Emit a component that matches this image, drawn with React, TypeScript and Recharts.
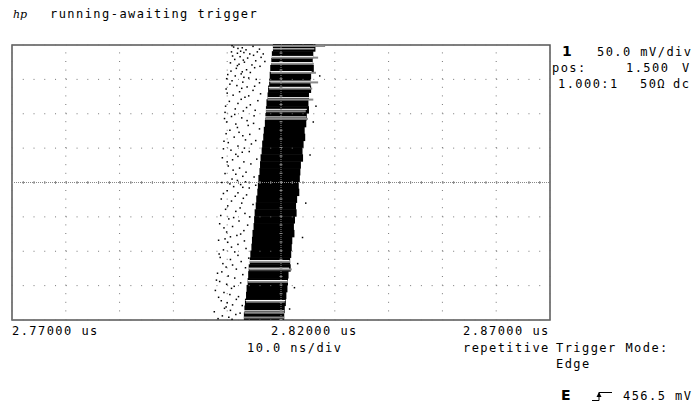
import React from "react";
import {
  ComposedChart,
  Bar,
  Scatter,
  XAxis,
  YAxis,
  ReferenceLine,
  ReferenceArea,
} from "recharts";

// time axis in ns, voltage axis in V
const gridTimes = [2770, 2780, 2790, 2800, 2810, 2820, 2830, 2840, 2850, 2860, 2870];
const gridVolts = [1.3, 1.35, 1.4, 1.45, 1.5, 1.55, 1.6, 1.65, 1.7];
const labelTimes = [2770, 2820, 2870];

// dense trace band, one row per 10 mV
const coreVolts = [
  1.695, 1.685, 1.675, 1.665, 1.655, 1.645, 1.635, 1.625, 1.615, 1.605,
  1.595, 1.585, 1.575, 1.565, 1.555, 1.545, 1.535, 1.525, 1.515, 1.505,
  1.495, 1.485, 1.475, 1.465, 1.455, 1.445, 1.435, 1.425, 1.415, 1.405,
  1.395, 1.385, 1.375, 1.365, 1.355, 1.345, 1.335, 1.325, 1.315, 1.305,
];
const coreLeft = [
  2818.5, 2818.3, 2818.2, 2818.0, 2817.9, 2817.8, 2817.6, 2817.5, 2817.3, 2817.2,
  2817.1, 2817.0, 2816.8, 2816.7, 2816.5, 2816.4, 2816.2, 2816.1, 2816.0, 2815.8,
  2815.7, 2815.6, 2815.4, 2815.3, 2815.1, 2815.0, 2814.9, 2814.7, 2814.6, 2814.5,
  2814.3, 2814.2, 2814.0, 2813.9, 2813.8, 2813.6, 2813.5, 2813.3, 2813.2, 2813.1,
];
const coreRight = [
  2826.4, 2826.0, 2825.9, 2826.1, 2825.6, 2825.5, 2825.6, 2825.2, 2825.1, 2825.2,
  2824.8, 2824.7, 2824.4, 2824.5, 2824.2, 2824.0, 2824.1, 2823.7, 2823.6, 2823.5,
  2823.3, 2823.4, 2823.0, 2822.8, 2822.9, 2822.6, 2822.4, 2822.5, 2822.1, 2822.0,
  2821.9, 2821.7, 2821.8, 2821.4, 2821.3, 2821.2, 2821.0, 2820.9, 2820.7, 2820.6,
];

// grey streaks and white gaps at top and bottom of the band
const streakVolts = [1.698, 1.681, 1.672, 1.659, 1.645, 1.636, 1.62, 1.603, 1.592, 1.384, 1.373, 1.355, 1.326, 1.31, 1.303];
const streakLeft = [2818.5, 2818.3, 2818.2, 2818.1, 2818.0, 2817.8, 2817.5, 2817.2, 2817.1, 2814.2, 2814.1, 2813.9, 2813.5, 2813.2, 2813.1];
const streakRight = [2828.2, 2826.9, 2826.1, 2826.5, 2826.9, 2825.8, 2826.0, 2824.6, 2825.0, 2821.7, 2822.0, 2821.3, 2820.7, 2820.6, 2820.6];

const gapVolts = [1.695, 1.684, 1.675, 1.662, 1.648, 1.639, 1.624, 1.607, 1.596, 1.387, 1.376, 1.358, 1.329, 1.314];
const gapLeft = [2818.4, 2818.3, 2818.1, 2818.0, 2817.8, 2817.7, 2817.5, 2817.2, 2817.0, 2814.1, 2814.0, 2813.8, 2813.4, 2813.1];
const gapRight = [2826.2, 2826.0, 2825.9, 2825.7, 2825.5, 2825.4, 2825.2, 2824.8, 2824.7, 2821.6, 2821.5, 2821.2, 2820.8, 2820.6];

// scattered samples left of the trace (and a few specks on the right)
const noiseTimes = [
  2811.2, 2812.0, 2812.8, 2813.5, 2810.8, 2811.9, 2813.1, 2814.2, 2815.6, 2812.4, 2813.8, 2811.4, 2816.3, 2810.6, 2812.2, 2813.2, 2814.6, 2811.7, 2813.6, 2815.1, 2817.0,
  2810.1, 2811.5, 2812.6, 2814.0, 2810.9, 2812.9, 2815.4, 2811.8, 2813.7, 2809.8, 2812.3, 2814.8, 2811.1, 2813.3, 2816.2, 2810.4, 2812.0, 2814.3, 2811.5, 2813.0, 2809.6,
  2810.8, 2812.7, 2815.0, 2809.9, 2811.6, 2813.9, 2810.5, 2812.2, 2816.0, 2811.3, 2813.4, 2809.4, 2812.0, 2814.5, 2810.7, 2812.8, 2811.6,
  2809.1, 2811.0, 2813.1, 2815.5, 2810.2, 2812.3, 2811.6, 2812.9, 2810.9, 2811.9, 2813.4, 2809.0, 2812.5, 2811.2, 2814.1, 2810.0, 2812.0, 2813.6,
  2808.9, 2810.8, 2812.7, 2814.8, 2809.7, 2811.6, 2813.3, 2810.3, 2812.2, 2808.6, 2811.0, 2813.8, 2809.9, 2812.5, 2810.6,
  2808.4, 2810.1, 2812.0, 2809.3, 2811.4, 2813.5, 2808.7, 2810.6, 2812.6, 2809.8, 2811.7, 2808.2, 2810.2, 2812.9,
  2808.6, 2809.9, 2811.3, 2807.8, 2809.4, 2810.5, 2812.1, 2808.9, 2810.0, 2811.0, 2809.5, 2810.6, 2807.6, 2812.4, 2809.1, 2810.3,
  2827.2, 2826.5, 2826.0, 2825.4, 2824.6, 2824.0, 2823.1, 2822.5, 2821.6,
  2810.9, 2814.8, 2816.0, 2812.5, 2814.9, 2811.0, 2816.7, 2813.0, 2815.3, 2811.9, 2816.1, 2810.7, 2812.8, 2814.3,
  2809.9, 2813.1, 2816.0, 2810.5, 2812.7, 2815.1, 2810.0, 2814.0, 2812.6, 2815.7, 2809.7, 2813.6, 2815.2,
  2811.4, 2813.7, 2809.5, 2814.9, 2811.9, 2809.8, 2814.2, 2812.9, 2810.2, 2815.3, 2813.2, 2809.3, 2814.1,
  2812.0, 2810.0, 2814.4, 2811.1, 2813.5, 2809.6, 2815.0, 2810.5, 2812.9, 2815.3, 2809.3, 2811.5,
  2813.0, 2810.1, 2812.4, 2808.8, 2814.2, 2811.2, 2809.4, 2813.1, 2811.8,
  2809.6, 2813.2, 2810.8, 2808.5, 2812.0, 2814.0, 2809.2, 2811.0, 2813.4, 2809.0, 2811.4,
  2808.0, 2812.5, 2810.8, 2808.4, 2811.7, 2809.8, 2811.6, 2808.3, 2810.9, 2812.8,
];
const noiseVolts = [
  1.697, 1.695, 1.696, 1.693, 1.69, 1.688, 1.689, 1.687, 1.69, 1.683, 1.681, 1.679, 1.682, 1.674, 1.672, 1.675, 1.671, 1.666, 1.664, 1.667, 1.676,
  1.657, 1.655, 1.658, 1.652, 1.648, 1.646, 1.65, 1.641, 1.639, 1.636, 1.632, 1.634, 1.627, 1.624, 1.629, 1.618, 1.615, 1.613, 1.607, 1.604, 1.602,
  1.596, 1.594, 1.597, 1.588, 1.585, 1.583, 1.576, 1.573, 1.578, 1.566, 1.562, 1.56, 1.553, 1.556, 1.547, 1.544, 1.541,
  1.536, 1.533, 1.53, 1.534, 1.524, 1.521, 1.512, 1.509, 1.505, 1.503, 1.501, 1.5, 1.497, 1.494, 1.492, 1.488, 1.485, 1.482,
  1.476, 1.473, 1.47, 1.468, 1.461, 1.458, 1.455, 1.447, 1.444, 1.44, 1.436, 1.438, 1.428, 1.425, 1.421,
  1.416, 1.413, 1.41, 1.402, 1.399, 1.404, 1.391, 1.388, 1.385, 1.377, 1.374, 1.368, 1.364, 1.366,
  1.356, 1.352, 1.349, 1.343, 1.34, 1.337, 1.334, 1.328, 1.325, 1.322, 1.317, 1.314, 1.312, 1.31, 1.306, 1.304,
  1.655, 1.611, 1.588, 1.54, 1.47, 1.42, 1.382, 1.347, 1.316,
  1.699, 1.698, 1.694, 1.691, 1.685, 1.684, 1.687, 1.678, 1.677, 1.67, 1.669, 1.662, 1.661, 1.66,
  1.651, 1.653, 1.645, 1.643, 1.637, 1.64, 1.63, 1.626, 1.621, 1.619, 1.611, 1.609, 1.605,
  1.599, 1.59, 1.593, 1.586, 1.58, 1.571, 1.57, 1.568, 1.558, 1.561, 1.55, 1.549, 1.545,
  1.538, 1.53, 1.527, 1.518, 1.515, 1.513, 1.508, 1.498, 1.493, 1.496, 1.484, 1.48,
  1.477, 1.466, 1.463, 1.452, 1.45, 1.449, 1.434, 1.43, 1.423,
  1.418, 1.415, 1.406, 1.396, 1.394, 1.39, 1.382, 1.38, 1.376, 1.37, 1.361,
  1.358, 1.354, 1.346, 1.333, 1.33, 1.319, 1.308, 1.302, 1.301, 1.321,
];

const bandRows = [
  ...coreVolts.map((v, i) => ({ vc: v, core: [coreLeft[i], coreRight[i]] })),
  ...streakVolts.map((v, i) => ({ vs: v, streak: [streakLeft[i], streakRight[i]] })),
  ...gapVolts.map((v, i) => ({ vg: v, gap: [gapLeft[i], gapRight[i]] })),
];
const noise = noiseTimes.map((t, i) => ({ t, v: noiseVolts[i] }));

const mono: React.CSSProperties = {
  fontFamily: "'DejaVu Sans Mono', monospace",
  fontSize: 12,
  letterSpacing: "1.45px",
  fill: "#000",
};
const bold: React.CSSProperties = {
  fontFamily: "'DejaVu Sans', sans-serif",
  fontSize: 14,
  fontWeight: 700,
  fill: "#000",
};

function TimeTick(props: any) {
  const { x, y, payload } = props;
  const i = labelTimes.indexOf(payload.value);
  if (i < 0) return <g />;
  const shift = [0, -10, -87][i];
  return (
    <text x={x + shift} y={y + 15} style={mono}>
      {(payload.value / 1000).toFixed(5)} us
    </text>
  );
}

// each band row is a horizontal stroke of fixed thickness around its row centre
const rowShape = (thick: number, color: string) => (p: any) => (
  <rect x={p.x} y={p.y + p.height / 2 - thick / 2} width={p.width} height={thick} fill={color} />
);

const Dot = (p: any) => (
  <rect x={p.cx - 0.75} y={p.cy - 0.75} width={1.5} height={1.5} fill="#000" />
);

export default function App() {
  return (
    <div style={{ position: "absolute", left: 0, top: 0, width: 695, height: 415, background: "#fff" }}>
      <ComposedChart
        width={695}
        height={415}
        layout="vertical"
        data={bandRows}
        margin={{ top: 45, right: 145, bottom: 55, left: 12 }}
      >
        <XAxis
          type="number"
          dataKey="t"
          domain={[2770, 2870]}
          ticks={gridTimes}
          interval={0}
          height={40}
          axisLine={false}
          tickLine={false}
          tickSize={0}
          tickMargin={0}
          tick={<TimeTick />}
        />
        <YAxis type="number" dataKey="v" domain={[1.3, 1.7]} reversed width={0} axisLine={false} tickLine={false} tick={false} />
        <YAxis yAxisId="core" type="number" dataKey="vc" domain={[1.3, 1.7]} reversed hide />
        <YAxis yAxisId="streak" type="number" dataKey="vs" domain={[1.3, 1.7]} reversed hide />
        <YAxis yAxisId="gap" type="number" dataKey="vg" domain={[1.3, 1.7]} reversed hide />

        {gridVolts.map((v) => (
          <ReferenceLine key={`h${v}`} y={v} stroke="#777" strokeDasharray="1 9.76" />
        ))}
        {gridTimes.map((t) => (
          <ReferenceLine key={`v${t}`} x={t} stroke="#777" strokeDasharray="1 7.6" />
        ))}

        <ReferenceLine y={1.5} stroke="#888" strokeDasharray="1 1" />
        <ReferenceLine y={1.5} stroke="#888" strokeWidth={3} strokeDasharray="1 9.76" />
        <ReferenceLine x={2820} stroke="#888" strokeDasharray="1 1" />
        <ReferenceLine x={2820} stroke="#888" strokeWidth={3} strokeDasharray="1 7.6" />

        <Bar yAxisId="core" dataKey="core" barSize={4} shape={rowShape(7.4, "#000")} isAnimationActive={false} />
        <Bar yAxisId="streak" dataKey="streak" barSize={2} shape={rowShape(2, "#8a8a8a")} isAnimationActive={false} />
        <Bar yAxisId="gap" dataKey="gap" barSize={1} shape={rowShape(1, "#fff")} isAnimationActive={false} />
        <Scatter data={noise} shape={Dot} isAnimationActive={false} />

        <ReferenceArea x1={2770} x2={2870} y1={1.3} y2={1.7} fill="none" stroke="#555" strokeWidth={1.5} />
      </ComposedChart>

      <svg width={695} height={415} style={{ position: "absolute", left: 0, top: 0, pointerEvents: "none" }}>
        <text x={13} y={18} style={{ fontFamily: "'DejaVu Serif', serif", fontStyle: "italic", fontSize: 11, fill: "#000" }}>hp</text>
        <text x={50} y={18} style={mono}>running-awaiting trigger</text>

        <text x={562} y={56} style={bold}>1</text>
        <text x={597} y={56} style={mono}>50.0 mV/div</text>
        <text x={552} y={72} style={mono}>pos:</text>
        <text x={626} y={72} style={mono}>1.500</text>
        <text x={682} y={72} style={mono}>V</text>
        <text x={558} y={88} style={mono}>1.000:1</text>
        <text x={640} y={88} style={mono}>50Ω</text>
        <text x={673} y={88} style={mono}>dc</text>

        <text x={247} y={352} style={mono}>10.0 ns/div</text>
        <text x={463} y={352} style={mono}>repetitive</text>
        <text x={556} y={352} style={mono}>Trigger Mode:</text>
        <text x={556} y={368} style={mono}>Edge</text>

        <text x={561} y={400} style={bold}>E</text>
        <path d="M592 400.5 H599 V392.5 H612" fill="none" stroke="#000" strokeWidth={1} />
        <path d="M596.5 397 L599 392 L601.5 397 Z" fill="#000" />
        <text x={623} y={400} style={mono}>456.5 mV</text>
      </svg>
    </div>
  );
}
